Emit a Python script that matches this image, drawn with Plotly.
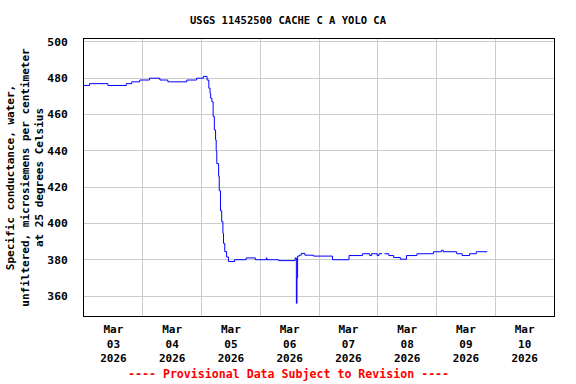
import plotly.graph_objects as go

# ---- data ----
times = [
    "2026-03-03 00:00", "2026-03-03 02:15", "2026-03-03 09:45", "2026-03-03 17:15",
    "2026-03-03 19:30", "2026-03-03 22:45", "2026-03-04 02:45", "2026-03-04 07:00",
    "2026-03-04 10:15", "2026-03-04 18:00", "2026-03-04 22:00", "2026-03-05 00:45",
    "2026-03-05 02:15", "2026-03-05 03:00", "2026-03-05 03:30", "2026-03-05 03:45",
    "2026-03-05 04:15", "2026-03-05 04:45", "2026-03-05 05:15", "2026-03-05 05:45",
    "2026-03-05 06:00", "2026-03-05 06:15", "2026-03-05 07:00", "2026-03-05 07:15",
    "2026-03-05 07:45", "2026-03-05 08:15", "2026-03-05 08:45", "2026-03-05 09:00",
    "2026-03-05 09:30", "2026-03-05 10:15", "2026-03-05 11:00", "2026-03-05 13:30",
    "2026-03-05 18:15", "2026-03-05 22:00", "2026-03-06 02:30", "2026-03-06 02:45",
    "2026-03-06 07:30", "2026-03-06 14:15", "2026-03-06 14:45", "2026-03-06 15:00",
    "2026-03-06 15:15", "2026-03-06 16:00", "2026-03-06 16:45", "2026-03-06 18:15",
    "2026-03-06 21:45", "2026-03-07 05:30", "2026-03-07 12:15", "2026-03-07 17:45",
    "2026-03-07 20:45", "2026-03-07 21:30", "2026-03-07 23:45", "2026-03-08 00:30",
    "2026-03-08 01:45", "2026-03-08 02:00", "2026-03-08 02:45", "2026-03-08 04:30",
    "2026-03-08 06:30", "2026-03-08 09:15", "2026-03-08 11:45", "2026-03-08 16:00",
    "2026-03-08 22:45", "2026-03-09 02:00", "2026-03-09 02:45", "2026-03-09 08:15",
    "2026-03-09 10:30", "2026-03-09 13:30", "2026-03-09 16:15", "2026-03-09 20:45",
]
conductance = [
    476, 477, 476, 477,
    478, 479, 480, 479,
    478, 479, 480, 481,
    479, 474.5, 471.5, 469,
    467, 459, 451.5, 446,
    440, 433, 426, 418,
    407, 401, 394.5, 389,
    384.5, 381.5, 379, 380,
    381, 380, 381, 380,
    379.5, 381, 356, 370,
    382, 382.5, 383.5, 382.5,
    382, 380, 382.3, 383.3,
    382.3, 383.3, 382.3, 383.3,
    383.3, None, 383.3, 382.3,
    381.2, 380.3, 382.3, 383.3,
    384.4, 385.2, 384.4, 383.3,
    382.3, 383.3, 384.4, 384.4,
]

day_ticks = ["2026-03-03 12:00", "2026-03-04 12:00", "2026-03-05 12:00", "2026-03-06 12:00",
             "2026-03-07 12:00", "2026-03-08 12:00", "2026-03-09 12:00", "2026-03-10 12:00"]
day_labels = ["Mar<br>03<br>2026", "Mar<br>04<br>2026", "Mar<br>05<br>2026", "Mar<br>06<br>2026",
              "Mar<br>07<br>2026", "Mar<br>08<br>2026", "Mar<br>09<br>2026", "Mar<br>10<br>2026"]
day_bounds = ["2026-03-04", "2026-03-05", "2026-03-06", "2026-03-07",
              "2026-03-08", "2026-03-09", "2026-03-10"]

title_text = "USGS 11452500 CACHE C A YOLO CA"
y_title = "Specific conductance, water,<br>unfiltered, microsiemens per centimeter<br>at 25 degrees Celsius"
footer = "---- Provisional Data Subject to Revision ----"

FONT = "DejaVu Sans Mono"

fig = go.Figure()
fig.add_trace(go.Scatter(
    x=times, y=conductance, mode="lines",
    line=dict(color="#0000FF", width=1, shape="hv"),
    connectgaps=False, showlegend=False, hoverinfo="x+y",
))

fig.update_layout(
    width=576, height=384,
    margin=dict(l=84, r=22, t=39, b=68, autoexpand=False),
    paper_bgcolor="white", plot_bgcolor="white",
    font=dict(family=FONT, size=11, color="black", weight="bold"),
    title=dict(text=title_text, x=0.5, xanchor="center", y=1 - 20.5 / 384, yanchor="middle",
               font=dict(family=FONT, size=10.5, color="black", weight="bold")),
    showlegend=False,
)

fig.update_xaxes(
    type="date",
    range=["2026-03-03", "2026-03-11"],
    tickmode="array", tickvals=day_ticks, ticktext=day_labels,
    showgrid=False, ticks="", ticklabelstandoff=3,
    tickfont=dict(family=FONT, size=11, color="black", weight="bold"),
    minor=dict(tickmode="array", tickvals=day_bounds, showgrid=True,
               gridcolor="#CCCCCC", gridwidth=1, ticks=""),
    showline=True, linecolor="black", linewidth=1, mirror=True,
    zeroline=False, automargin=False,
)

fig.update_yaxes(
    range=[349, 501.6],
    tickmode="linear", tick0=0, dtick=20,
    showgrid=True, gridcolor="#CCCCCC", gridwidth=1,
    ticks="", ticklabelstandoff=13,
    tickfont=dict(family=FONT, size=11.3, color="black", weight="bold"),
    showline=True, linecolor="black", linewidth=1, mirror=True,
    zeroline=False, automargin=False,
    title=dict(text=y_title, standoff=1,
               font=dict(family=FONT, size=11, color="black", weight="bold")),
)

fig.add_annotation(
    text=footer, xref="paper", yref="paper",
    x=(288 - 84) / 470, y=-(374.5 - 316) / 277, xanchor="center", yanchor="middle",
    showarrow=False,
    font=dict(family=FONT, size=11.6, color="#FF0000", weight="bold"),
)

fig.write_html("out.html", config={"displayModeBar": False},
               post_script="document.body.style.margin='0';")
